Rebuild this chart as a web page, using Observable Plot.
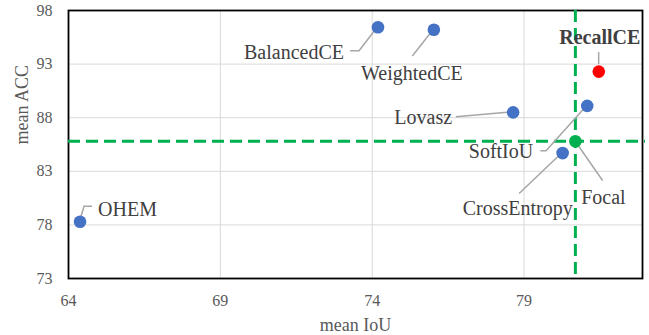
<!DOCTYPE html>
<html>
<head>
<meta charset="utf-8">
<script src="https://cdn.jsdelivr.net/npm/d3@7"></script>
<script src="https://cdn.jsdelivr.net/npm/@observablehq/plot@0.6"></script>
<style>
  html, body { margin: 0; padding: 0; background: #fff; }
  #chart svg { display: block; }
</style>
</head>
<body>
<div id="chart"></div>
<script>
// ---- data ----
const methods = ["OHEM", "BalancedCE", "WeightedCE", "Lovasz", "SoftIoU", "Focal", "CrossEntropy", "RecallCE"];
const meanIoU = [64.38, 74.19, 76.03, 78.64, 81.08, 80.69, 80.27, 81.46];
const meanACC = [78.3, 96.44, 96.2, 88.5, 89.1, 85.8, 84.7, 92.3];
const xTicks = [64, 69, 74, 79];
const yTicks = [73, 78, 83, 88, 93, 98];
const referenceMethod = "Focal";

const rows = methods.map((m, i) => ({method: m, iou: meanIoU[i], acc: meanACC[i]}));
const ref = rows.find(r => r.method === referenceMethod);

// ---- styling / layout ----
const FONT = "Liberation Serif, Times New Roman, serif";
const TEXT = "#404040";
const dotColor = {RecallCE: "#ff0000", Focal: "#00b050"};
const labelLayout = {
  OHEM:         {dx: 18,  dy: -12, anchor: "start",  leader: [[0, 0], [4.5, -15], [12.5, -15]]},
  BalancedCE:   {dx: -34, dy: 25,  anchor: "end",    leader: [[0, 0], [-18.4, 24], [-27.4, 24]]},
  WeightedCE:   {dx: -22, dy: 44,  anchor: "middle", leader: [[0, 0], [-21, 26.7]]},
  Lovasz:       {dx: -61, dy: 5,   anchor: "end",    leader: [[0, 0], [-56.7, 5]]},
  SoftIoU:      {dx: -54, dy: 46,  anchor: "end",    leader: [[0, 0], [-40.7, 45.3], [-46.4, 45.3]]},
  Focal:        {dx: 28,  dy: 56,  anchor: "middle", leader: [[0, 0], [27.7, 39.7]]},
  CrossEntropy: {dx: -45, dy: 56,  anchor: "middle", leader: [[0, 0], [-43, 41]]},
  RecallCE:     {dx: 1,   dy: -34, anchor: "middle", bold: true, leader: [[0.4, -7], [0.4, -19]]}
};

const leaders = (index, scales) => {
  const g = d3.create("svg:g")
    .attr("fill", "none")
    .attr("stroke", "#a6a6a6")
    .attr("stroke-width", 1.5);
  rows.forEach(r => {
    const L = labelLayout[r.method];
    const px = scales.x(r.iou), py = scales.y(r.acc);
    g.append("polyline")
      .attr("points", L.leader.map(([a, b]) => `${px + a},${py + b}`).join(" "));
  });
  return g.node();
};

const labelMarks = rows.map(r => {
  const L = labelLayout[r.method];
  return Plot.text([r], {
    x: "iou", y: "acc", text: "method",
    dx: L.dx, dy: L.dy, textAnchor: L.anchor, lineAnchor: "middle",
    fontSize: 20, fontFamily: FONT, fill: TEXT,
    fontWeight: L.bold ? "bold" : "normal"
  });
});

const chart = Plot.plot({
  width: 649,
  height: 335,
  marginLeft: 68,
  marginTop: 10,
  marginRight: 7,
  marginBottom: 57,
  style: {fontFamily: FONT, background: "#fff"},
  x: {domain: [64, 82.9], ticks: xTicks},
  y: {domain: [73, 98], ticks: yTicks},
  marks: [
    Plot.gridX(xTicks, {stroke: "#d9d9d9", strokeOpacity: 1, strokeWidth: 1}),
    Plot.gridY(yTicks, {stroke: "#d9d9d9", strokeOpacity: 1, strokeWidth: 1}),
    Plot.axisX(xTicks, {tickSize: 0, tickPadding: 16, fontSize: 16, fill: "#595959", label: null, fontFamily: FONT}),
    Plot.axisY(yTicks, {tickSize: 0, tickPadding: 16, fontSize: 16, fill: "#595959", label: null, fontFamily: FONT}),
    Plot.frame({stroke: "#000", strokeWidth: 1.8}),
    Plot.ruleX([ref], {x: "iou", stroke: "#00b050", strokeWidth: 3, strokeDasharray: "12,6"}),
    Plot.ruleY([ref], {y: "acc", x1: 64, x2: 83, stroke: "#00b050", strokeWidth: 3, strokeDasharray: "12,6"}),
    leaders,
    Plot.dot(rows, {x: "iou", y: "acc", r: 6.3, fill: d => dotColor[d.method] ?? "#4472c4", stroke: "none"}),
    ...labelMarks,
    Plot.text(["mean IoU"], {frameAnchor: "bottom", dy: 47, text: d => d, fontSize: 18, fontFamily: FONT, fill: "#595959", lineAnchor: "middle"}),
    Plot.text(["mean ACC"], {frameAnchor: "left", dx: -46, rotate: -90, text: d => d, fontSize: 18, fontFamily: FONT, fill: "#595959", lineAnchor: "middle"})
  ]
});
document.getElementById("chart").appendChild(chart);
</script>
</body>
</html>
